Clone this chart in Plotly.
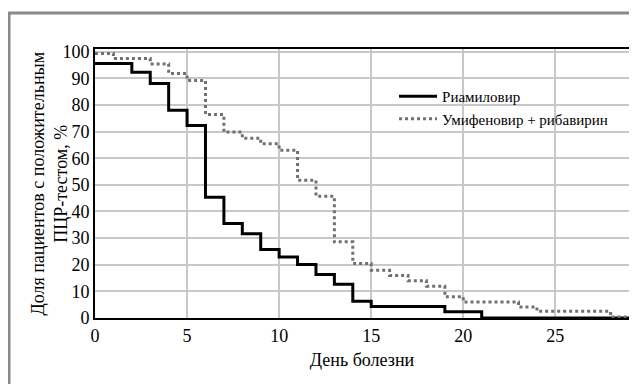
import plotly.graph_objects as go

# Риамиловир
days_riam = [0, 2, 3, 4, 5, 6, 7, 8, 9, 10, 11, 12, 13, 14, 15, 19, 21, 29]
vals_riam = [95.6, 92.3, 88.0, 78.0, 72.3, 45.3, 35.5, 31.6, 25.7, 22.9, 20.1, 16.3, 12.7, 6.3, 4.3, 2.3, 0, 0]

# Умифеновир + рибавирин
days_umif = [0, 1, 3, 4, 5, 6, 7, 8, 9, 10, 11, 12, 13, 14, 15, 16, 17, 18, 19, 20, 23, 24, 28, 29]
vals_umif = [99.3, 97.4, 95.4, 91.8, 89.2, 76.4, 69.8, 67.5, 65.4, 63.0, 51.7, 45.7, 28.6, 20.5, 17.9,
             16.0, 14.0, 11.9, 8.0, 6.0, 4.1, 2.5, 0.4, 0.4]

x_ticks = [0, 5, 10, 15, 20, 25]
y_ticks = [0, 10, 20, 30, 40, 50, 60, 70, 80, 90, 100]

FONT = "Liberation Serif, Times New Roman, DejaVu Serif, serif"

fig = go.Figure()
fig.add_trace(go.Scatter(x=days_riam, y=vals_riam, mode="lines", line_shape="hv",
                         name="Риамиловир", line=dict(color="black", width=3)))
fig.add_trace(go.Scatter(x=days_umif, y=vals_umif, mode="lines", line_shape="hv",
                         name="Умифеновир + рибавирин",
                         line=dict(color="#707070", width=3, dash="dot")))

fig.update_layout(
    width=629, height=376,
    margin=dict(l=87, r=8, t=41, b=66, autoexpand=False),
    paper_bgcolor="white", plot_bgcolor="white",
    font=dict(family=FONT, size=18, color="black"),
    showlegend=True,
    legend=dict(x=0.56, y=0.885, xanchor="left", yanchor="top",
                bgcolor="rgba(0,0,0,0)", font=dict(family=FONT, size=15, color="black"),
                tracegroupgap=0, itemwidth=38),
    xaxis=dict(range=[0, 29], tickvals=x_ticks, showgrid=True, gridcolor="#c8c8c8", gridwidth=1.5,
               showline=True, linecolor="black", linewidth=2, mirror=True, zeroline=False,
               ticks="", tickfont=dict(size=18), automargin=False,
               title=dict(text="День болезни", font=dict(size=18), standoff=9)),
    yaxis=dict(range=[0, 101], tickvals=y_ticks, showgrid=True, gridcolor="#c8c8c8", gridwidth=1.5,
               showline=True, linecolor="black", linewidth=2, mirror=True, zeroline=False,
               ticks="", tickfont=dict(size=18), automargin=False),
    annotations=[dict(text="Доля пациентов с положительным<br>ПЦР-тестом, %",
                      xref="paper", yref="paper", x=-0.086, y=0.5, xanchor="center", yanchor="middle",
                      textangle=-90, showarrow=False, font=dict(family=FONT, size=18, color="black"))],
    shapes=[dict(type="rect", xref="paper", yref="paper", x0=-0.161, x1=1.5, y0=-1, y1=1.134,
                 line=dict(color="#8a8a8a", width=3), fillcolor="rgba(0,0,0,0)", layer="below")],
)

fig.write_html("out.html")
